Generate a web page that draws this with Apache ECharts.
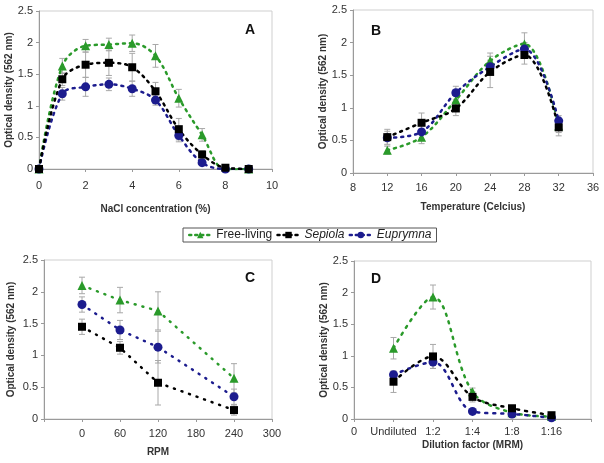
<!DOCTYPE html>
<html><head><meta charset="utf-8">
<script src="https://cdn.jsdelivr.net/npm/echarts@6/dist/echarts.min.js"></script>
<style>html,body{margin:0;padding:0;background:#fff}#c{width:604px;height:463px}</style>
</head><body><div id="c"></div>
<script>
// ---- Data ----
const seriesNames = ['Free-living', 'Sepiola', 'Euprymna'];

// Panel A: NaCl concentration (%)
const nacl = [0, 1, 2, 3, 4, 5, 6, 7, 8, 9];
const naclFree = [0, 1.63, 1.95, 1.97, 1.99, 1.79, 1.12, 0.54, -0.01, 0];
const naclSep  = [0, 1.42, 1.65, 1.68, 1.61, 1.23, 0.63, 0.23, 0.02, 0];
const naclEup  = [0, 1.19, 1.30, 1.34, 1.27, 1.09, 0.53, 0.10, 0, 0];
const naclFreeErr = [0, 0.12, 0.10, 0.10, 0.13, 0.18, 0.14, 0.10, 0.04, 0];
const naclSepErr  = [0, 0.10, 0.20, 0.20, 0.22, 0.14, 0.17, 0.06, 0.03, 0];
const naclEupErr  = [0, 0.10, 0.15, 0.10, 0.12, 0.08, 0.10, 0.05, 0, 0];

// Panel B: Temperature (Celcius)
const temp = [12, 16, 20, 24, 28, 32];
const tempFree = [0.35, 0.55, 1.12, 1.72, 1.98, 0.72];
const tempSep  = [0.55, 0.77, 0.99, 1.55, 1.81, 0.70];
const tempEup  = [0.54, 0.63, 1.23, 1.63, 1.90, 0.80];
const tempFreeErr = [0.06, 0.10, 0.08, 0.12, 0.17, 0.10];
const tempSepErr  = [0.12, 0.15, 0.11, 0.24, 0.14, 0.13];
const tempEupErr  = [0.10, 0.12, 0.10, 0.10, 0.10, 0.08];

// Panel C: RPM
const rpm = [0, 60, 120, 240];
const rpmFree = [2.10, 1.87, 1.70, 0.64];
const rpmSep  = [1.45, 1.12, 0.57, 0.14];
const rpmEup  = [1.80, 1.40, 1.13, 0.35];
const rpmFreeErr = [0.13, 0.20, 0.30, 0.23];
const rpmSepErr  = [0.12, 0.10, 0.35, 0.08];
const rpmEupErr  = [0.12, 0.15, 0.25, 0.12];

// Panel D: Dilution factor (MRM)
const dilLabels = ['0', 'Undiluted', '1:2', '1:4', '1:8', '1:16', ''];
const dilPos = [1, 2, 3, 4, 5];
const dilFree = [1.12, 1.93, 0.43, 0.10, 0.04];
const dilSep  = [0.59, 0.99, 0.35, 0.17, 0.06];
const dilEup  = [0.70, 0.90, 0.12, 0.08, 0.02];
const dilFreeErr = [0.17, 0.19, 0.06, 0.03, 0.02];
const dilSepErr  = [0.17, 0.19, 0.08, 0.03, 0.02];
const dilEupErr  = [0.05, 0.10, 0.03, 0.02, 0.01];

const yTicks = ['0', '0.5', '1', '1.5', '2', '2.5'];

// ---- Styles ----
const colors = ['#2a9a2a', '#000000', '#1c1c8e'];
const symbols = ['triangle', 'rect', 'circle'];
const symSizes = [9, 8, 9];
const font = 'Liberation Sans, Arial, sans-serif';

const panels = [
  {x: nacl, ys: [naclFree, naclSep, naclEup], es: [naclFreeErr, naclSepErr, naclEupErr], smooth: 0.35, dash: [2, 5]},
  {x: temp, ys: [tempFree, tempSep, tempEup], es: [tempFreeErr, tempSepErr, tempEupErr], smooth: 0.35, dash: [2, 5]},
  {x: rpm, ys: [rpmFree, rpmSep, rpmEup], es: [rpmFreeErr, rpmSepErr, rpmEupErr], smooth: false, dash: [1, 7]},
  {x: dilPos, ys: [dilFree, dilSep, dilEup], es: [dilFreeErr, dilSepErr, dilEupErr], smooth: 0.35, dash: [2, 6]}
];

const grids = [
  {left: 39, right: 332, top: 11, bottom: 294},
  {left: 353, right: 11, top: 10, bottom: 290},
  {left: 44, right: 332, top: 260, bottom: 44},
  {left: 354, right: 13, top: 261, bottom: 44}
].map(g => Object.assign(g, {show: true, borderColor: '#cfcfcf', borderWidth: 1}));

const xNames = ['NaCl concentration (%)', 'Temperature (Celcius)', 'RPM', 'Dilution factor (MRM)'];
const xRanges = [
  {min: 0, max: 10, interval: 2, fmt: v => String(v), margin: 11, gap: 35},
  {min: 8, max: 36, interval: 4, fmt: v => String(v), margin: 9, gap: 29},
  {min: -60, max: 300, interval: 60, fmt: v => v < 0 ? '' : String(v), margin: 9, gap: 28},
  {min: 0, max: 6, interval: 1, fmt: v => dilLabels[Math.round(v)] || '', margin: 7, gap: 21}
];
const yGaps = [24, 23, 28, 23];

const labelStyle = {color: '#333', fontSize: 11, fontFamily: font};
const nameStyle = {color: '#333', fontSize: 10, fontWeight: 'bold', fontFamily: font};

const xAxis = xRanges.map((r, i) => ({
  type: 'value', gridIndex: i, min: r.min, max: r.max, interval: r.interval,
  axisLine: {show: true, onZero: false, lineStyle: {color: '#9a9a9a', width: 1}},
  axisTick: {show: true, length: 3, lineStyle: {color: '#9a9a9a'}},
  splitLine: {show: false},
  axisLabel: Object.assign({formatter: r.fmt, margin: r.margin, showMinLabel: true, showMaxLabel: true}, labelStyle),
  name: xNames[i], nameLocation: 'middle', nameGap: r.gap, nameTextStyle: nameStyle
}));

const yAxis = [0, 1, 2, 3].map(i => ({
  type: 'value', gridIndex: i, min: 0, max: 2.5, interval: 0.5,
  axisLine: {show: true, onZero: false, lineStyle: {color: '#9a9a9a', width: 1}},
  axisTick: {show: true, length: 3, lineStyle: {color: '#9a9a9a'}},
  splitLine: {show: false},
  axisLabel: Object.assign({formatter: v => yTicks[Math.round(v * 2)], margin: 6}, labelStyle),
  name: 'Optical density (562 nm)', nameLocation: 'middle', nameGap: yGaps[i], nameTextStyle: nameStyle
}));

function errRender(params, api) {
  const x = api.value(0), lo = api.value(1), hi = api.value(2);
  if (hi - lo <= 0) return null;
  const p1 = api.coord([x, Math.max(lo, 0)]);
  const p2 = api.coord([x, hi]);
  const w = 3;
  const st = {stroke: '#a8a8a8', lineWidth: 1};
  return {type: 'group', children: [
    {type: 'line', shape: {x1: p1[0], y1: p1[1], x2: p2[0], y2: p2[1]}, style: st},
    {type: 'line', shape: {x1: p1[0] - w, y1: p1[1], x2: p1[0] + w, y2: p1[1]}, style: st},
    {type: 'line', shape: {x1: p2[0] - w, y1: p2[1], x2: p2[0] + w, y2: p2[1]}, style: st}
  ]};
}

const series = [];
panels.forEach((p, gi) => {
  p.ys.forEach((ys, si) => {
    series.push({
      type: 'custom', name: 'err ' + seriesNames[si], xAxisIndex: gi, yAxisIndex: gi,
      renderItem: errRender, z: 1, silent: true,
      encode: {x: 0, y: [1, 2]},
      data: p.x.map((x, k) => [x, ys[k] - p.es[si][k], ys[k] + p.es[si][k]])
    });
  });
  [0, 2, 1].forEach(si => {
    const ys = p.ys[si];
    series.push({
      type: 'line', name: seriesNames[si], xAxisIndex: gi, yAxisIndex: gi,
      data: p.x.map((x, k) => [x, ys[k]]),
      smooth: p.smooth, symbol: symbols[si], symbolSize: symSizes[si],
      itemStyle: {color: colors[si]}, z: 3,
      lineStyle: {color: colors[si], width: 2.5, type: p.dash, cap: 'round'},
      animation: false
    });
  });
});

const chart = echarts.init(document.getElementById('c'), null, {renderer: 'canvas'});
chart.setOption({
  animation: false,
  backgroundColor: '#fff',
  grid: grids, xAxis: xAxis, yAxis: yAxis, series: series,
  legend: {
    data: seriesNames,
    left: 183, top: 228, orient: 'horizontal',
    itemWidth: 22, itemHeight: 8, itemGap: 4,
    borderColor: '#555', borderWidth: 1, padding: [1, 5],
    lineStyle: {type: [2, 4], width: 2.5, cap: 'round'},
    textStyle: {fontSize: 12, color: '#222', fontFamily: font,
      rich: {i: {fontStyle: 'italic', fontSize: 12, color: '#222', fontFamily: font}}},
    formatter: n => n === 'Free-living' ? n : '{i|' + n + '}'
  },
  graphic: [
    {type: 'text', left: 245, top: 23, style: {text: 'A', font: 'bold 14px ' + font, fill: '#111'}},
    {type: 'text', left: 371, top: 24, style: {text: 'B', font: 'bold 14px ' + font, fill: '#111'}},
    {type: 'text', left: 245, top: 271, style: {text: 'C', font: 'bold 14px ' + font, fill: '#111'}},
    {type: 'text', left: 371, top: 272, style: {text: 'D', font: 'bold 14px ' + font, fill: '#111'}}
  ]
});
</script></body></html>
